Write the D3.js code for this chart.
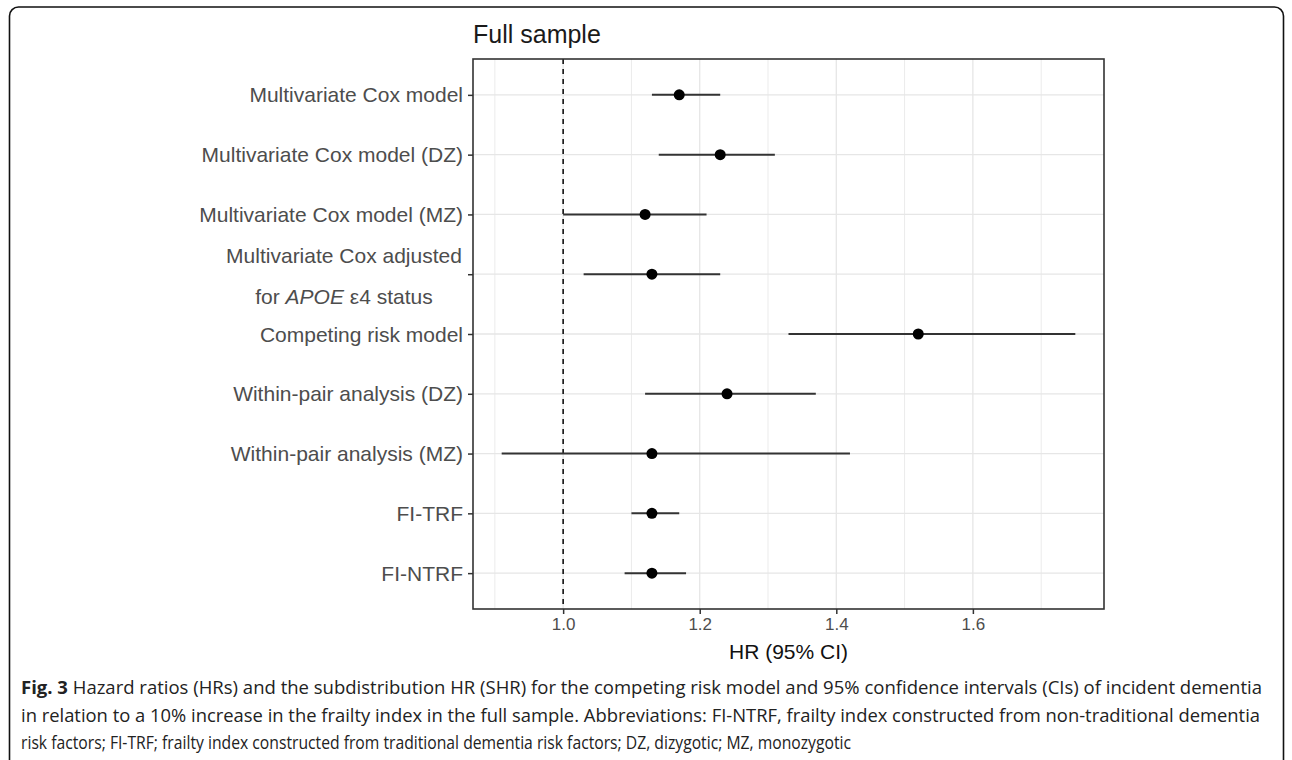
<!DOCTYPE html>
<html>
<head>
<meta charset="utf-8">
<script src="https://cdn.jsdelivr.net/npm/d3@7"></script>
<style>
	body { margin: 0; background: #fff; }
	svg { display: block; }
</style>
</head>
<body>
<svg id="forest" width="1292" height="760"></svg>
<script>
// models shown on the y axis, top to bottom ("|" = line break)
var models = [
	"Multivariate Cox model",
	"Multivariate Cox model (DZ)",
	"Multivariate Cox model (MZ)",
	"Multivariate Cox adjusted|for APOE ε4 status",
	"Competing risk model",
	"Within-pair analysis (DZ)",
	"Within-pair analysis (MZ)",
	"FI-TRF",
	"FI-NTRF"
];
var hr    = [1.17, 1.23, 1.12, 1.13, 1.52, 1.24, 1.13, 1.13, 1.13];
var lower = [1.13, 1.14, 1.00, 1.03, 1.33, 1.12, 0.91, 1.10, 1.09];
var upper = [1.23, 1.31, 1.21, 1.23, 1.75, 1.37, 1.42, 1.17, 1.18];
var majorTicks = [1.0, 1.2, 1.4, 1.6];
var minorTicks = [0.9, 1.1, 1.3, 1.5, 1.7];

var captionLines = [
	"Hazard ratios (HRs) and the subdistribution HR (SHR) for the competing risk model and 95% confidence intervals (CIs) of incident dementia",
	"in relation to a 10% increase in the frailty index in the full sample. Abbreviations: FI-NTRF, frailty index constructed from non-traditional dementia",
	"risk factors; FI-TRF; frailty index constructed from traditional dementia risk factors; DZ, dizygotic; MZ, monozygotic"
];
var captionWidths = [1241, 1239, 830];

function forest() {
	var panel = { left: 473, right: 1104, top: 59, bottom: 609 };
	var font = "'Liberation Sans', Arial, sans-serif";

	var rows = models.map(function (m, i) {
		return { model: m, hr: hr[i], lo: lower[i], hi: upper[i] };
	});

	// ggplot style 5% expansion of the data range
	var lo = d3.min(lower), hi = d3.max(upper), pad = (hi - lo) * 0.05;
	var x = d3.scaleLinear().domain([lo - pad, hi + pad]).range([panel.left, panel.right]);

	// discrete scale with 0.6 expansion on each side
	var step = (panel.bottom - panel.top) / (models.length - 1 + 1.2);
	var y = d3.scalePoint().domain(models)
		.range([panel.top + 0.6 * step, panel.bottom - 0.6 * step]);

	var svg = d3.select("#forest");

	// outer frame of the figure
	svg.append("rect")
		.attr("x", 9.5).attr("y", 7)
		.attr("width", 1274).attr("height", 780)
		.attr("rx", 9)
		.style("fill", "none")
		.style("stroke", "#111")
		.style("stroke-width", 1.6);

	// grid
	var grid = svg.append("g").attr("class", "grid");
	grid.selectAll(".minor")
		.data(minorTicks)
		.enter().append("line")
		.attr("x1", function (d) { return x(d); })
		.attr("x2", function (d) { return x(d); })
		.attr("y1", panel.top).attr("y2", panel.bottom)
		.style("stroke", "#ebebeb").style("stroke-width", 1);
	grid.selectAll(".major")
		.data(majorTicks)
		.enter().append("line")
		.attr("x1", function (d) { return x(d); })
		.attr("x2", function (d) { return x(d); })
		.attr("y1", panel.top).attr("y2", panel.bottom)
		.style("stroke", "#e6e6e6").style("stroke-width", 1.3);
	grid.selectAll(".hgrid")
		.data(models)
		.enter().append("line")
		.attr("x1", panel.left).attr("x2", panel.right)
		.attr("y1", function (d) { return y(d); })
		.attr("y2", function (d) { return y(d); })
		.style("stroke", "#e6e6e6").style("stroke-width", 1.3);

	// reference line at HR = 1
	svg.append("line")
		.attr("x1", x(1)).attr("x2", x(1))
		.attr("y1", panel.top).attr("y2", panel.bottom)
		.style("stroke", "#111")
		.style("stroke-width", 1.6)
		.style("stroke-dasharray", "5,5");

	// confidence intervals
	svg.append("g").selectAll("line")
		.data(rows)
		.enter().append("line")
		.attr("x1", function (d) { return x(d.lo); })
		.attr("x2", function (d) { return x(d.hi); })
		.attr("y1", function (d) { return y(d.model); })
		.attr("y2", function (d) { return y(d.model); })
		.style("stroke", "#333")
		.style("stroke-width", 2);

	// point estimates
	svg.append("g").selectAll("circle")
		.data(rows)
		.enter().append("circle")
		.attr("cx", function (d) { return x(d.hr); })
		.attr("cy", function (d) { return y(d.model); })
		.attr("r", 5.5)
		.style("fill", "#000");

	// panel border
	svg.append("rect")
		.attr("x", panel.left).attr("y", panel.top)
		.attr("width", panel.right - panel.left)
		.attr("height", panel.bottom - panel.top)
		.style("fill", "none")
		.style("stroke", "#333")
		.style("stroke-width", 1.6);

	// x axis
	var xAxis = svg.append("g")
		.attr("transform", "translate(0," + panel.bottom + ")")
		.call(d3.axisBottom(x).tickValues(majorTicks).tickFormat(d3.format(".1f")).tickSize(5).tickPadding(4));
	xAxis.select(".domain").remove();
	xAxis.selectAll(".tick line").style("stroke", "#333").style("stroke-width", 1.5);
	xAxis.selectAll(".tick text")
		.style("font-family", font).style("font-size", "17px").style("fill", "#4d4d4d");

	// y axis, labels may span two lines
	var yAxis = svg.append("g")
		.attr("transform", "translate(" + panel.left + ",0)")
		.call(d3.axisLeft(y).tickSize(5).tickPadding(5).tickFormat(""));
	yAxis.select(".domain").remove();
	yAxis.selectAll(".tick line").style("stroke", "#333").style("stroke-width", 1.5);

	var labels = svg.append("g")
		.style("font-family", font)
		.style("font-size", "21px")
		.style("fill", "#4d4d4d");
	models.forEach(function (m) {
		var parts = m.split("|");
		if (parts.length == 1) {
			labels.append("text")
				.attr("x", panel.left - 10)
				.attr("y", y(m))
				.attr("dy", "0.36em")
				.attr("text-anchor", "end")
				.text(m);
		} else {
			// two centred lines, block right aligned
			var cx = panel.left - 10 - 119;
			labels.append("text")
				.attr("x", cx).attr("y", y(m) - 19)
				.attr("dy", "0.36em")
				.attr("text-anchor", "middle")
				.text(parts[0]);
			var t2 = labels.append("text")
				.attr("x", cx).attr("y", y(m) + 22)
				.attr("dy", "0.36em")
				.attr("text-anchor", "middle");
			t2.append("tspan").text("for ");
			t2.append("tspan").style("font-style", "italic").text("APOE");
			t2.append("tspan").text(" ε4 status");
		}
	});

	// titles
	svg.append("text")
		.attr("x", panel.left).attr("y", 43)
		.style("font-family", font).style("font-size", "25px").style("fill", "#1a1a1a")
		.text("Full sample");
	svg.append("text")
		.attr("x", (panel.left + panel.right) / 2).attr("y", 659)
		.attr("text-anchor", "middle")
		.style("font-family", font).style("font-size", "21px").style("fill", "#111")
		.text("HR (95% CI)");

	// figure caption
	var cap = svg.append("g")
		.style("font-family", "'Open Sans', 'Noto Sans', sans-serif")
		.style("font-size", "17.5px")
		.style("fill", "#222");
	captionLines.forEach(function (line, i) {
		var t = cap.append("text")
			.attr("x", 21).attr("y", 694 + i * 27.5)
			.attr("textLength", captionWidths[i])
			.attr("lengthAdjust", "spacingAndGlyphs");
		if (i == 0) {
			t.append("tspan").style("font-weight", "bold").text("Fig. 3");
			t.append("tspan").text(" " + line);
		} else {
			t.text(line);
		}
	});
}

forest();
</script>
</body>
</html>
